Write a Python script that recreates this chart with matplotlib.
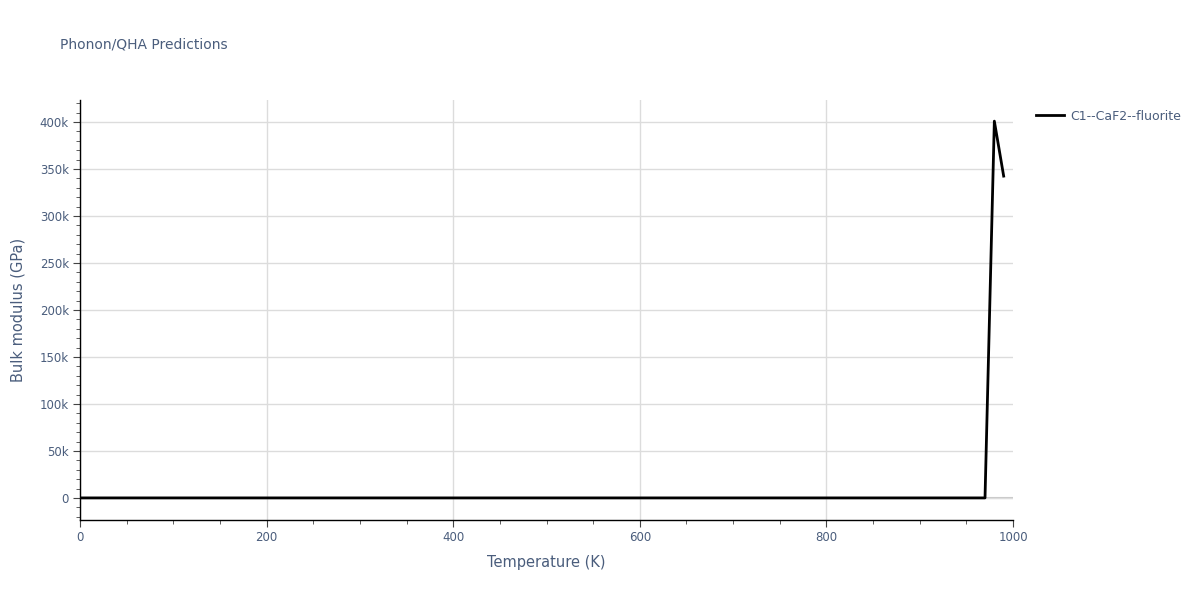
import numpy as np
import matplotlib.pyplot as plt
from matplotlib.ticker import MultipleLocator, FuncFormatter

temperature = [0, 970, 980, 990]
bulk_modulus = [0, 0, 401000, 342500]
series_name = 'C1--CaF2--fluorite'

txt = '#4a5d7c'
grid = '#dcdcdc'

fig = plt.figure(figsize=(12, 6), dpi=100)
ax = fig.add_axes([80/1200, 80/600, 933/1200, 420/600])

ax.plot(temperature, bulk_modulus, color='black', lw=2, label=series_name, zorder=3)

ax.set_xlim(0, 1000)
ax.set_ylim(-23500, 423500)
ax.xaxis.set_major_locator(MultipleLocator(200))
ax.xaxis.set_minor_locator(MultipleLocator(50))
ax.yaxis.set_major_locator(MultipleLocator(50000))
ax.yaxis.set_minor_locator(MultipleLocator(10000))
ax.yaxis.set_major_formatter(FuncFormatter(lambda v, p: '0' if v == 0 else f'{int(v/1000)}k'))

ax.grid(True, which='major', color=grid, lw=1, zorder=0)
ax.axhline(0, color='#c8c8c8', lw=1.5, zorder=1)
for s in ['top', 'right']:
    ax.spines[s].set_visible(False)
for s in ['left', 'bottom']:
    ax.spines[s].set_color('black')
    ax.spines[s].set_linewidth(1)

ax.tick_params(which='major', length=5, color='#444444', labelcolor=txt, labelsize=8.5, pad=3)
ax.tick_params(which='minor', length=3, color='#444444')

ax.set_xlabel('Temperature (K)', color=txt, fontsize=10.5, labelpad=8)
ax.set_ylabel('Bulk modulus (GPa)', color=txt, fontsize=10.5, labelpad=10)

fig.text(60/1200, 1 - 45/600, 'Phonon/QHA Predictions', color=txt, fontsize=10, va='center')

ax.legend(loc='upper left', bbox_to_anchor=(1.013, 1.004), frameon=False, fontsize=9,
          labelcolor=txt, handlelength=2.2, handletextpad=0.5)

fig.canvas.draw()
for t, gl in zip(ax.get_xticks(), ax.get_xgridlines()):
    if t >= 1000:
        gl.set_visible(False)

fig.savefig('out.png', dpi=100)
